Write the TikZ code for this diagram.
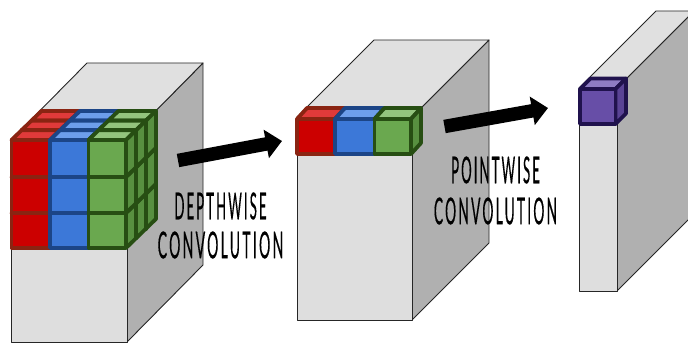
\documentclass[tikz,border=0pt]{standalone}
\usepackage{fontspec}
\setmainfont{Lato}
\newfontfamily\capfont[LetterSpace=16,FakeBold=0.6]{Lato}
\usetikzlibrary{arrows.meta}
\definecolor{rf}{HTML}{CC0000}\definecolor{rt}{HTML}{E03A3A}\definecolor{rs}{HTML}{A61C00}\definecolor{rb}{HTML}{8A2412}
\definecolor{bf}{HTML}{3C78D8}\definecolor{bt}{HTML}{6D9EEB}\definecolor{bs}{HTML}{2F60B0}\definecolor{bb}{HTML}{1C4587}
\definecolor{gf}{HTML}{6AA84F}\definecolor{gt}{HTML}{93C47D}\definecolor{gs}{HTML}{589040}\definecolor{gb}{HTML}{274E13}
\definecolor{pf}{HTML}{674EA7}\definecolor{pt}{HTML}{8E7CC3}\definecolor{ps}{HTML}{5A4395}\definecolor{pb}{HTML}{20124D}
\definecolor{topface}{HTML}{E0E0E0}\definecolor{frontface}{HTML}{DEDEDE}\definecolor{sideface}{HTML}{B0B0B0}
\tikzset{
  boxedge/.style={draw=black!85,line width=0.9pt,line join=round},
  cubeedge/.style={line width=3.8pt,line join=round},
  bigarrow/.style={line width=13.5pt,-{Triangle[length=16pt,width=28pt]}},
  caption/.style={font=\capfont\fontsize{37}{37}\selectfont,inner sep=0pt,xscale=0.355,text=black},
  captionwide/.style={caption,xscale=1.08}
}
% x0 x1 y0 y1 dx dy letter
\newcommand{\unitcube}[7]{%
  \draw[cubeedge,draw=#7b,fill=#7t] (#1,#3)--(#1+#5,#3-#6)--(#2+#5,#3-#6)--(#2,#3)--cycle;
  \draw[cubeedge,draw=#7b,fill=#7s] (#2,#3)--(#2+#5,#3-#6)--(#2+#5,#4-#6)--(#2,#4)--cycle;
  \draw[cubeedge,draw=#7b,fill=#7f] (#1,#3) rectangle (#2,#4);
}
\newcommand{\gbox}[6]{% x0 x1 y0 y1 dx dy
  \fill[sideface] (#2,#3)--(#2+#5,#3-#6)--(#2+#5,#4-#6)--(#2,#4)--cycle;
  \draw[boxedge] (#2,#3)--(#2+#5,#3-#6)--(#2+#5,#4-#6)--(#2,#4);
  \draw[boxedge,fill=topface] (#1,#3)--(#1+#5,#3-#6)--(#2+#5,#3-#6)--(#2,#3)--cycle;
  \draw[boxedge,fill=frontface] (#1,#3) rectangle (#2,#4);
}
\begin{document}
\begin{tikzpicture}[x=1pt,y=-1pt]
\useasboundingbox (0,0) rectangle (688,345);
\gbox{11}{127}{140}{342}{76}{77}
\gbox{297}{412}{117}{320}{77}{77}
\begin{scope}
  \clip (0,0) rectangle (688,345);
  \gbox{579}{617}{88}{291}{77}{77}
\end{scope}
% cube stack on the first box
\foreach \k in {2,1,0}{
  \pgfmathsetmacro{\ox}{10*\k}
  \pgfmathsetmacro{\oy}{9.7*\k}
  \foreach \a/\b/\c in {11.5/50/r,50/88.5/b,88.5/126/g}{
    \foreach \t/\u in {213/248,177/213,140/177}{
      \unitcube{\a+\ox}{\b+\ox}{\t-\oy}{\u-\oy}{10}{9.7}{\c}
    }
  }
}
% cube row on the second box
\foreach \a/\b/\c in {297/335/r,335/374.5/b,374.5/411/g}{
  \unitcube{\a}{\b}{119}{154}{10}{11}{\c}
}
% cube on the third box
\unitcube{580}{615.5}{89}{124}{10.5}{10.5}{p}
% arrows
\coordinate (arrowAstart) at (178,160.5);
\coordinate (arrowAend) at (282,141);
\coordinate (arrowBstart) at (444.5,126.5);
\coordinate (arrowBend) at (548,108);
\draw[bigarrow] (arrowAstart)--(arrowAend);
\draw[bigarrow] (arrowBstart)--(arrowBend);
% captions
\node[caption] (depth) at (220.5,206) {DEPTHWISE};
\node[caption,xscale=1.07] (conva) at (220.5,245) {CONVOLUTION};
\node[caption] (point) at (495.5,170) {POINTWISE};
\node[caption,xscale=1.05] (convb) at (495.5,211) {CONVOLUTION};
\end{tikzpicture}
\end{document}
